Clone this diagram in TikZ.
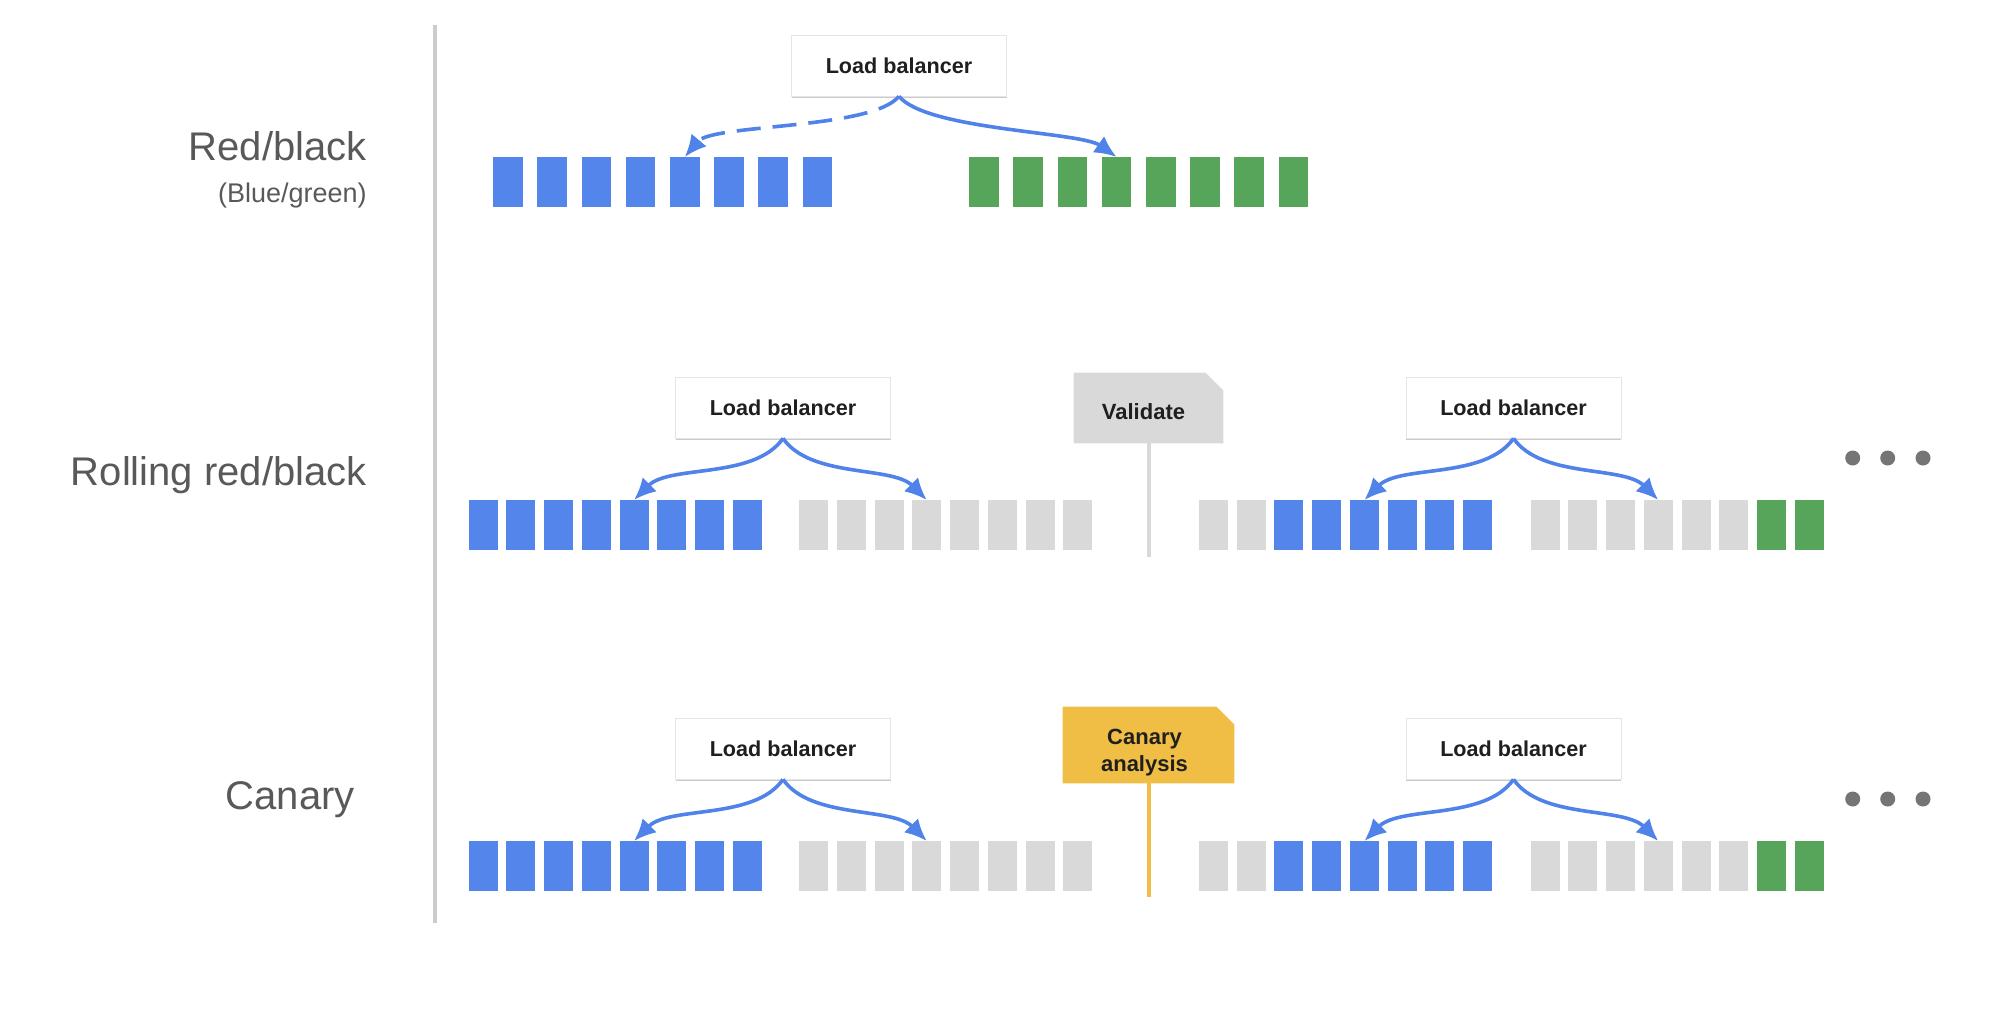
\documentclass[tikz,border=0pt]{standalone}
\usepackage{fontspec}
\setmainfont{Liberation Sans}
\usetikzlibrary{arrows.meta,shadows,backgrounds}

\definecolor{sqblue}{RGB}{84,133,234}
\definecolor{sqgreen}{RGB}{87,165,90}
\definecolor{sqgray}{RGB}{217,217,217}
\definecolor{routeblue}{RGB}{80,131,233}
\definecolor{canaryyellow}{RGB}{241,190,69}
\definecolor{labelgray}{RGB}{89,89,89}
\definecolor{dotgray}{RGB}{117,117,117}
\definecolor{rulegray}{RGB}{204,204,204}

\begin{document}
\begin{tikzpicture}[x=0.5pt,y=0.5pt,
  rowlabel/.style={anchor=base east,inner sep=0pt,text=labelgray,font=\fontsize{20}{24}\selectfont},
  sublabel/.style={anchor=base east,inner sep=0pt,text=labelgray,font=\fontsize{13.5}{16}\selectfont},
  lb/.style={draw=black!10,fill=white,minimum width=107.5pt,minimum height=30.5pt,inner sep=0pt,
    text=black!88,font=\fontsize{10.8}{13}\selectfont\bfseries,
    drop shadow={shadow xshift=0pt,shadow yshift=-1pt,fill=black!35,opacity=.6}},
  sq/.style={minimum height=25pt,inner sep=0pt,outer sep=0pt},
  flag/.style={inner sep=0pt},
  flagtext/.style={inner sep=0pt,text=black!88,align=center,
    font=\fontsize{11}{13.5}\selectfont\bfseries},
  route/.style={routeblue,line width=1.8pt,-{Latex[length=11pt,width=10pt]}}
]
\useasboundingbox (0,0) rectangle (1994,-1008);

\draw[rulegray,line width=2pt] (435,-25) -- (435,-923);

\node[rowlabel] (lrb) at (367,-160) {Red/black};
\node[sublabel] (lbg) at (367,-202) {(Blue/green)};
\node[rowlabel] (lrr) at (367,-485) {Rolling red/black};
\node[rowlabel] (lca) at (355,-809) {Canary};

\foreach \i in {1,...,8} {
  \node[sq,minimum width=14.75pt,fill=sqblue] (rba\i) at ({508+44.2*(\i-1)},-182) {};
  \node[sq,minimum width=14.75pt,fill=sqgreen] (rbb\i) at ({984+44.2*(\i-1)},-182) {};
}

\foreach \r/\y in {rr/-525,ca/-866}
  \foreach \i/\cc/\cd in {1/sqgray/sqgray,2/sqgray/sqgray,3/sqblue/sqgray,4/sqblue/sqgray,
                          5/sqblue/sqgray,6/sqblue/sqgray,7/sqblue/sqgreen,8/sqblue/sqgreen} {
    \node[sq,minimum width=14.5pt,fill=sqblue] (\r a\i) at ({483+37.75*(\i-1)},\y) {};
    \node[sq,minimum width=14.5pt,fill=sqgray] (\r b\i) at ({813.5+37.75*(\i-1)},\y) {};
    \node[sq,minimum width=14.5pt,fill=\cc] (\r c\i) at ({1213.4+37.75*(\i-1)},\y) {};
    \node[sq,minimum width=14.5pt,fill=\cd] (\r d\i) at ({1545+37.75*(\i-1)},\y) {};
  }

\node[lb] (lbtop) at (899,-65.5) {Load balancer};
\node[lb] (lbrr1) at (783,-407.5) {Load balancer};
\node[lb] (lbrr2) at (1513.5,-407.5) {Load balancer};
\node[lb] (lbca1) at (783,-748.5) {Load balancer};
\node[lb] (lbca2) at (1513.5,-748.5) {Load balancer};

\draw[route,dash pattern=on 12pt off 6pt] (lbtop.south) to[out=-130,in=50,looseness=.5] (rba5.north);
\draw[route] (lbtop.south) to[out=-50,in=145,looseness=.5] (rbb4.north);

\foreach \r in {rr,ca} {
  \draw[route] (lb\r1.south) to[out=-125,in=45,looseness=.8] (\r a5.north);
  \draw[route] (lb\r1.south) to[out=-55,in=135,looseness=.8] (\r b4.north);
  \draw[route] (lb\r2.south) to[out=-125,in=45,looseness=.8] (\r c5.north);
  \draw[route] (lb\r2.south) to[out=-55,in=135,looseness=.8] (\r d4.north);
}

\node[flag,minimum width=74.5pt,minimum height=35pt] (val) at (1148.5,-408) {};
\node[flagtext] (valtxt) at ([xshift=-2.5pt,yshift=-2pt]val.center) {Validate};
\coordinate (valend) at (1148.5,-557);
\node[flag,minimum width=85.5pt,minimum height=38pt] (can) at (1148.5,-745) {};
\node[flagtext] (cantxt) at ([xshift=-2pt,yshift=-4pt]can.center) {Canary\\analysis};
\coordinate (canend) at (1148.5,-897);
\begin{scope}[on background layer]
\fill[sqgray] (val.south west) -- (val.north west) -- ([xshift=-9pt]val.north east)
  -- ([yshift=-9pt]val.north east) -- (val.south east) -- cycle;
\fill[canaryyellow] (can.south west) -- (can.north west) -- ([xshift=-9pt]can.north east)
  -- ([yshift=-9pt]can.north east) -- (can.south east) -- cycle;
\end{scope}
\draw[sqgray,line width=2pt] (val.south) -- (valend);
\draw[canaryyellow,line width=2pt] (can.south) -- (canend);

\foreach \y in {-458,-799}
  \foreach \x in {1852.7,1887.7,1923}
    \fill[dotgray] (\x,\y) circle (3.75pt);
\end{tikzpicture}
\end{document}
